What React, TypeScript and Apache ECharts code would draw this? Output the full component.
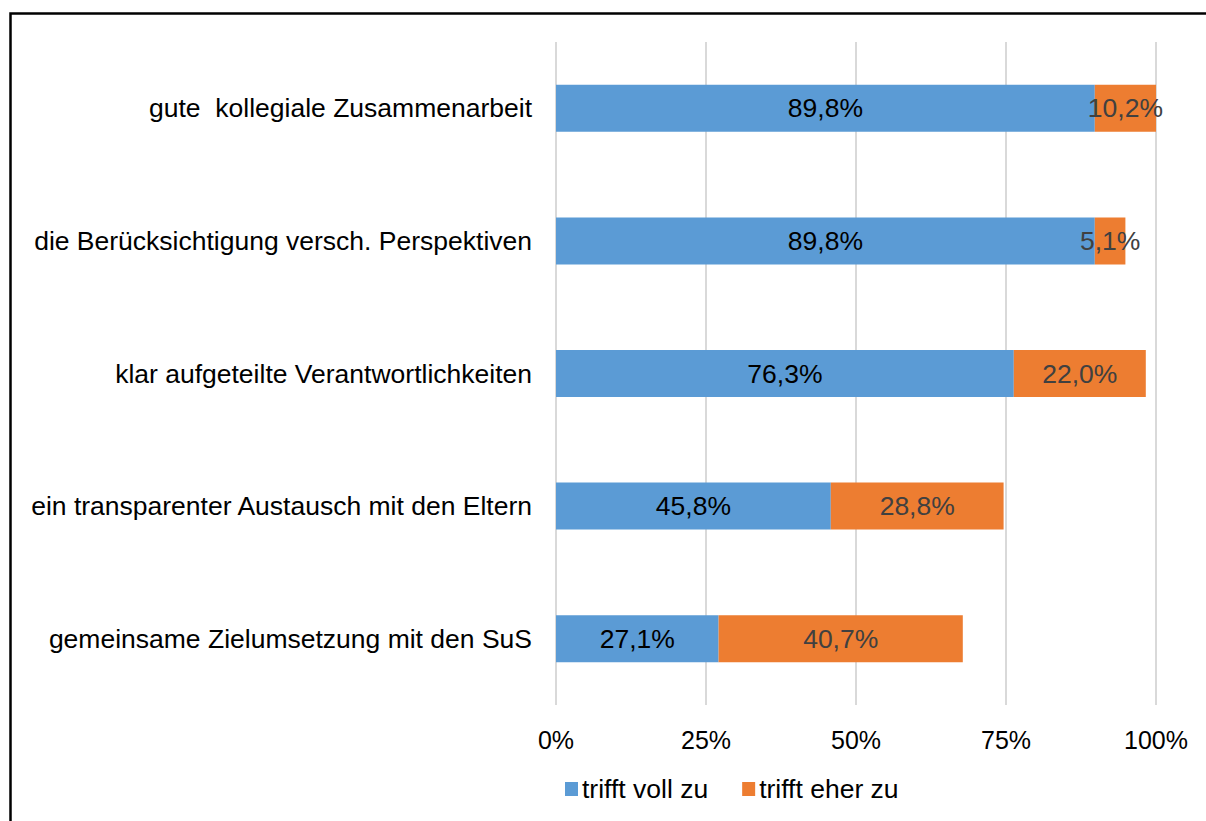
import React, { useEffect, useRef } from "react";
import * as echarts from "echarts";

const categories = [
  "gute  kollegiale Zusammenarbeit",
  "die Berücksichtigung versch. Perspektiven",
  "klar aufgeteilte Verantwortlichkeiten",
  "ein transparenter Austausch mit den Eltern",
  "gemeinsame Zielumsetzung mit den SuS",
];
const trifftVollZu = [89.8, 89.8, 76.3, 45.8, 27.1];
const trifftEherZu = [10.2, 5.1, 22.0, 28.8, 40.7];
const seriesNames = ["trifft voll zu", "trifft eher zu"];
const tickValues = [0, 25, 50, 75, 100];

const FONT = "'Liberation Sans', Arial, sans-serif";
const LABEL_SIZE = 26.5;
const fmt = (v: number) => v.toFixed(1).replace(".", ",") + "%";

export default function App() {
  const ref = useRef<HTMLDivElement>(null);
  useEffect(() => {
    if (!ref.current) return;
    const chart = echarts.init(ref.current, undefined, { renderer: "svg" });
    chart.setOption({
      animation: false,
      backgroundColor: "#ffffff",
      textStyle: { fontFamily: FONT },
      graphic: [
        {
          type: "rect",
          shape: { x: 10.5, y: 13.5, width: 1400, height: 1000 },
          style: { fill: "none", stroke: "#000000", lineWidth: 2.5 },
          silent: true,
          z: 100,
        },
      ],
      grid: { left: 556, right: 50, top: 42, bottom: 116, containLabel: false },
      legend: {
        data: seriesNames,
        left: 560,
        top: 770,
        itemWidth: 13,
        itemHeight: 14,
        itemGap: 34,
        icon: "rect",
        textStyle: {
          fontSize: LABEL_SIZE,
          lineHeight: 28,
          color: "#000000",
          fontFamily: FONT,
          padding: [0, 0, 0, -1],
        },
      },
      xAxis: {
        type: "value",
        min: tickValues[0],
        max: tickValues[tickValues.length - 1],
        interval: 25,
        axisLine: { show: false },
        axisTick: { show: false },
        splitLine: { lineStyle: { color: "#d9d9d9", width: 2 } },
        axisLabel: {
          formatter: (v: number) => v + "%",
          fontSize: 25,
          color: "#000000",
          margin: 22,
          fontFamily: FONT,
        },
      },
      yAxis: {
        type: "category",
        data: categories,
        inverse: true,
        axisLine: { show: false },
        axisTick: { show: false },
        axisLabel: { fontSize: LABEL_SIZE, color: "#000000", margin: 24, fontFamily: FONT },
      },
      series: [
        {
          name: seriesNames[0],
          type: "bar",
          stack: "total",
          data: trifftVollZu,
          barWidth: 47,
          itemStyle: { color: "#5b9bd5" },
          label: {
            show: true,
            position: "inside",
            formatter: (p: any) => fmt(p.value),
            fontSize: LABEL_SIZE,
            color: "#000000",
            fontFamily: FONT,
          },
        },
        {
          name: seriesNames[1],
          type: "bar",
          stack: "total",
          data: trifftEherZu,
          barWidth: 47,
          itemStyle: { color: "#ed7d31" },
          label: {
            show: true,
            position: "inside",
            formatter: (p: any) => fmt(p.value),
            fontSize: LABEL_SIZE,
            color: "#404040",
            fontFamily: FONT,
          },
        },
      ],
    });
    return () => chart.dispose();
  }, []);
  return (
    <div
      ref={ref}
      style={{ position: "fixed", left: 0, top: 0, width: 1206, height: 821 }}
    />
  );
}
